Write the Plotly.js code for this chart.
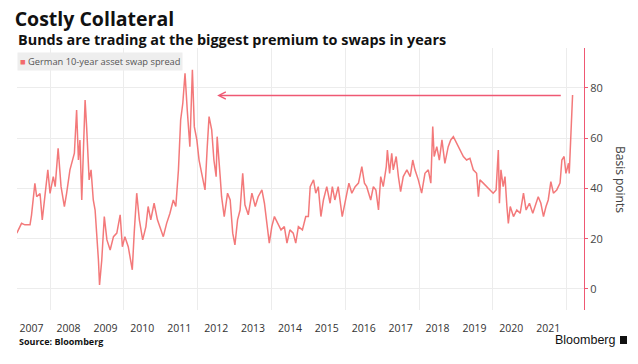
<!DOCTYPE html>
<html>
<head>
<meta charset="utf-8">
<script src="https://cdn.plot.ly/plotly-3.0.1.min.js"></script>
<style>html,body{margin:0;padding:0;background:#fff;}#chart{width:638px;height:364px;}</style>
</head>
<body>
<div id="chart"></div>
<script>
// Decimal-year dates and German 10-year asset swap spread (bp)
const years = [
2007.10,2007.23,2007.32,2007.46,2007.50,2007.59,2007.64,2007.73,2007.79,2007.86,2007.94,
2008.00,2008.09,2008.14,2008.22,2008.30,2008.39,2008.45,2008.54,2008.66,2008.72,2008.77,2008.81,2008.86,2008.90,2008.95,2008.99,
2009.06,2009.11,2009.17,2009.22,2009.27,2009.31,2009.34,2009.40,2009.47,2009.54,2009.63,2009.72,2009.81,2009.90,2009.96,
2010.03,2010.12,2010.23,2010.28,2010.35,2010.42,2010.51,2010.60,2010.66,2010.73,2010.82,2010.91,2010.98,
2011.07,2011.16,2011.25,2011.34,2011.41,2011.48,2011.54,2011.60,2011.66,2011.72,2011.79,2011.86,2011.91,2011.98,
2012.04,2012.11,2012.20,2012.26,2012.31,2012.38,2012.44,2012.50,2012.53,2012.61,2012.65,2012.72,2012.81,2012.88,2012.95,
2013.01,2013.08,2013.15,2013.22,2013.28,2013.37,2013.47,2013.56,2013.64,2013.74,2013.81,2013.87,2013.94,
2014.01,2014.08,2014.17,2014.26,2014.35,2014.42,2014.50,2014.59,2014.66,2014.73,2014.84,2014.93,
2015.00,2015.05,2015.14,2015.20,2015.27,2015.34,2015.41,2015.50,2015.59,2015.65,2015.72,2015.81,2015.92,
2016.01,2016.10,2016.18,2016.27,2016.36,2016.45,2016.52,2016.58,2016.69,2016.76,2016.83,2016.90,2016.96,
2017.03,2017.11,2017.14,2017.20,2017.26,2017.30,2017.38,2017.44,2017.50,2017.57,2017.67,2017.76,2017.83,2017.89,2017.98,
2018.07,2018.16,2018.25,2018.32,2018.37,2018.41,2018.48,2018.55,2018.62,2018.70,2018.79,2018.86,2018.93,
2019.02,2019.11,2019.20,2019.29,2019.38,2019.47,2019.56,2019.61,2019.65,2019.74,2019.84,2019.92,
2020.01,2020.09,2020.15,2020.18,2020.22,2020.28,2020.33,2020.38,2020.42,2020.47,2020.56,2020.65,2020.74,2020.83,2020.90,2020.99,
2021.08,2021.14,2021.23,2021.30,2021.37,2021.44,2021.50,2021.57,2021.64,2021.73,2021.82,2021.87,2021.93,2021.98,
2022.05,2022.07,2022.12,2022.16
];
const spread = [
22.2,26.1,25.5,25.5,29.5,42,36.7,38,27.5,36.7,47.4,
38,44.7,40.7,56,40.7,32.8,38,47.4,54,71.2,51.3,59.3,35.4,51.3,75.2,64.6,
43.4,47.4,35.4,31.4,22.2,11.5,1.6,11.5,28.8,19.5,15.5,20.8,22.2,29.5,16.8,
20.8,16.8,7.6,22.2,38.1,27.5,19.5,24.8,32.8,27.5,34.1,27.5,24.8,
20.8,26.1,30.1,35.4,32.8,47.4,67.3,73.9,85.8,71.2,56.6,87.2,64.6,59.3,
51.3,46,39.4,56.6,68.6,63.3,51.3,44.7,60.6,44.7,36.7,28.8,38.1,35.4,22.2,
17.5,27.5,31.4,46,33.5,29.5,38.1,32.8,36.7,39.4,34.1,27.5,18.2,
24.8,28.8,26.1,23.5,24.8,18.2,23.5,22.2,18.2,24.8,23.5,28.8,
28.8,40.7,43.4,38.1,40.7,28.8,35.4,40.7,34.1,40.7,35.4,40.7,28.8,
35.4,42.1,38.1,40.7,42.1,48.7,42.1,40.7,35.4,40.7,39.4,31.4,44.7,
40.7,48.7,55.3,46,54,47.4,52.7,44.7,38.7,44.7,47.4,44.7,51.3,47.4,43.4,
38.1,46,47.4,42.1,64.6,52.7,56.6,51.3,59.3,50,56.6,59.3,60.6,
58,55.3,52.7,51.3,52,47.4,46,36.7,43.4,42.1,40.7,39.4,
38.1,39.4,55.3,34.1,47.4,40.7,44.7,32.8,26.1,32.8,28.8,31.4,30.1,38.1,31.4,34.1,
30.1,32.8,36.7,34.1,28.8,32.8,35.4,42.7,38.1,39.4,42.1,51.3,52.7,46,
50,46,60.6,77.2
];
const tickYears = [2007,2008,2009,2010,2011,2012,2013,2014,2015,2016,2017,2018,2019,2020,2021];
const gridYears = [2008,2010,2012,2014,2016,2018,2020,2022];
const yTicks = [0,20,40,60,80];
const arrowTip = 2012.53, arrowTail = 2021.88, arrowLevel = 77;

function toDate(d){
  const y = Math.floor(d);
  const s = Date.UTC(y,0,1), e = Date.UTC(y+1,0,1);
  return new Date(s + (d-y)*(e-s)).toISOString().slice(0,10);
}

const lineColor = '#f26a6c';
const accent = '#ef5873';
const font = '"Open Sans", "Liberation Sans", sans-serif';

const trace = {
  x: years.map(toDate), y: spread, type: 'scatter', mode: 'lines',
  line: {color: lineColor, width: 1.5}, opacity: 0.9, showlegend: false, hoverinfo: 'skip'
};

const layout = {
  width: 638, height: 364,
  margin: {l: 17, r: 54, t: 48, b: 54},
  paper_bgcolor: '#fff', plot_bgcolor: '#fff',
  font: {family: font, color: '#333'},
  showlegend: false,
  title: {
    text: '<b>Costly Collateral</b>',
    font: {family: font, size: 19.5, color: '#111'},
    xref: 'container', yref: 'container', x: 0.023, xanchor: 'left',
    y: 1 - 19/364, yanchor: 'middle'
  },
  xaxis: {
    type: 'date',
    range: [toDate(2007.106), toDate(2022.47)],
    tickmode: 'array',
    tickvals: tickYears.map(y => y + '-07-02'),
    ticktext: tickYears.map(String),
    ticks: 'outside', ticklen: 8, tickcolor: 'rgba(0,0,0,0)',
    tickfont: {size: 10.5, color: '#333', family: font},
    showgrid: false, zeroline: false, showline: false,
    minor: {tickmode: 'array', tickvals: gridYears.map(y => y + '-01-01'), showgrid: true, gridcolor: '#ececec', gridwidth: 1, ticks: ''}
  },
  yaxis: {
    side: 'right',
    range: [-8.4, 95.9],
    tickmode: 'array', tickvals: yTicks,
    ticks: 'outside', ticklen: 3, tickcolor: accent,
    tickfont: {size: 11, color: '#444', family: font},
    showline: true, linecolor: accent, linewidth: 1,
    showgrid: true, gridcolor: '#ececec', zeroline: false
  },
  annotations: [
    {
      text: '<b>Bunds are trading at the biggest premium to swaps in years</b>',
      xref: 'paper', yref: 'paper', x: -0.002, xanchor: 'left', y: 1 + 9/262, yanchor: 'middle',
      showarrow: false, font: {family: font, size: 14.4, color: '#111'}
    },
    {
      text: '<span style="color:' + lineColor + '">■</span> German 10-year asset swap spread',
      xref: 'paper', yref: 'paper', x: 0, xanchor: 'left', y: 1 - 4/262, yanchor: 'top',
      showarrow: false, bgcolor: '#eeeeee', borderpad: 2,
      font: {family: font, size: 9.3, color: '#555'}
    },
    {
      text: 'Basis points', textangle: 90,
      xref: 'paper', yref: 'paper', x: 1 + 37/567, xanchor: 'center', y: 0.5, yanchor: 'middle',
      showarrow: false, font: {family: font, size: 12, color: '#444'}
    },
    {
      x: toDate(arrowTip), y: arrowLevel, ax: toDate(arrowTail), ay: arrowLevel,
      xref: 'x', yref: 'y', axref: 'x', ayref: 'y', text: '',
      showarrow: true, arrowhead: 5, arrowsize: 1, arrowwidth: 1.4, arrowcolor: accent
    },
    {
      text: '<b>Source: Bloomberg</b>',
      xref: 'paper', yref: 'paper', x: 0, xanchor: 'left', y: -31/262, yanchor: 'middle',
      showarrow: false, font: {family: font, size: 9, color: '#111'}
    },
    {
      text: 'Bloomberg',
      xref: 'paper', yref: 'paper', x: 1 + 33/567, xanchor: 'right', y: -30/262, yanchor: 'middle',
      showarrow: false, font: {family: '"Liberation Sans", sans-serif', size: 12.5, color: '#111'}
    }
  ],
  shapes: [
    {type: 'rect', xref: 'paper', yref: 'paper', x0: 1 + 36/567, x1: 1 + 43/567, y0: -34/262, y1: -26/262,
     fillcolor: '#111', line: {width: 0}}
  ]
};

Plotly.newPlot('chart', [trace], layout, {displayModeBar: false, staticPlot: true});
</script>
</body>
</html>
